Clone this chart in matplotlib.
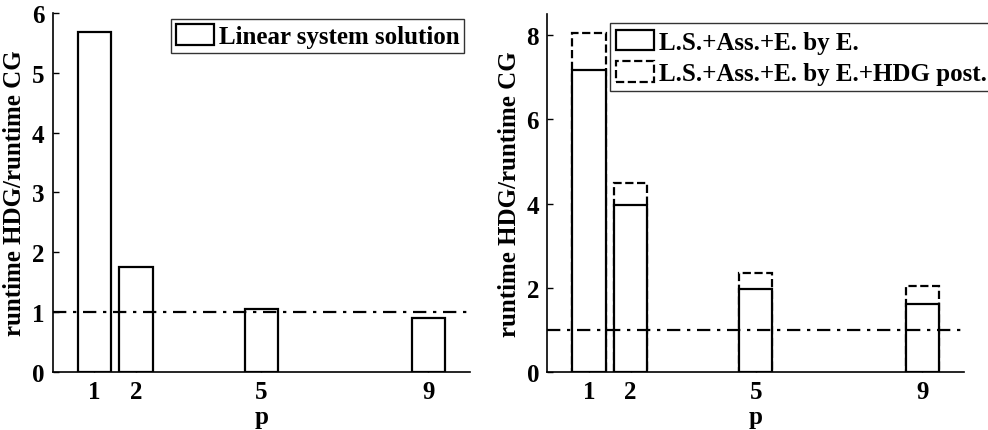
import matplotlib
matplotlib.use("Agg")
import matplotlib.pyplot as plt
from matplotlib.patches import Patch

p_values = [1, 2, 5, 9]
left_ratio = [5.69, 1.76, 1.05, 0.90]
right_solid = [7.16, 3.96, 1.97, 1.62]
right_dashed = [8.06, 4.49, 2.35, 2.03]
left_label = "Linear system solution"
right_labels = ["L.S.+Ass.+E. by E.", "L.S.+Ass.+E. by E.+HDG post."]
ylabel = "runtime HDG/runtime CG"
xlabel = "p"

plt.rcParams['font.family'] = ['Liberation Serif', 'DejaVu Serif']
plt.rcParams['font.weight'] = 'bold'
plt.rcParams['axes.labelweight'] = 'bold'

fig = plt.figure(figsize=(9.88, 4.31), dpi=100)
ax1 = fig.add_axes([0.0532, 0.1346, 0.4225, 0.833])
ax2 = fig.add_axes([0.554, 0.1346, 0.4217, 0.8306])

FS = 18
LW = 1.6

def style(ax, ymax, yticks):
    ax.set_xlim(0, 10)
    ax.set_ylim(0, ymax)
    ax.set_xticks(p_values)
    ax.set_yticks(yticks)
    ax.spines['top'].set_visible(False)
    ax.spines['right'].set_visible(False)
    for s in ('left', 'bottom'):
        ax.spines[s].set_linewidth(1.2)
    ax.tick_params(direction='in', length=4, width=1, labelsize=FS)
    ax.tick_params(axis='x', pad=6)
    ax.tick_params(axis='y', pad=6)
    for lab in ax.get_xticklabels() + ax.get_yticklabels():
        lab.set_fontweight('bold')
    ax.set_xlabel(xlabel, fontsize=FS, fontweight='bold', labelpad=1)
    ax.set_ylabel(ylabel, fontsize=FS, fontweight='bold', labelpad=4)
    ax.axhline(1, color='black', linestyle=(0, (6, 3, 1.5, 3)), linewidth=LW, zorder=5)

# Left panel
ax1.bar(p_values, left_ratio, width=0.8, facecolor='white', edgecolor='black',
        linewidth=LW, zorder=3)
style(ax1, 6, range(0, 7))
h1 = [Patch(facecolor='white', edgecolor='black', linewidth=LW, label=left_label)]
leg1 = ax1.legend(handles=h1, loc='upper right', bbox_to_anchor=(0.986, 0.983),
                  borderaxespad=0, fancybox=False, edgecolor='black',
                  prop={'size': FS, 'weight': 'bold'}, handlelength=1.5,
                  handleheight=0.9, handletextpad=0.2, borderpad=0.2)
leg1.get_frame().set_linewidth(1.0)

# Right panel
ax2.bar(p_values, right_dashed, width=0.8, facecolor='white', edgecolor='black',
        linewidth=LW, linestyle='--', zorder=2)
ax2.bar(p_values, right_solid, width=0.8, facecolor='white', edgecolor='black',
        linewidth=LW, zorder=3)
style(ax2, 8.5, range(0, 9, 2))
h2 = [Patch(facecolor='white', edgecolor='black', linewidth=LW, label=right_labels[0]),
      Patch(facecolor='white', edgecolor='black', linewidth=LW, linestyle='--',
            label=right_labels[1])]
leg2 = ax2.legend(handles=h2, loc='upper left', bbox_to_anchor=(0.15, 0.974),
                  borderaxespad=0, fancybox=False, edgecolor='black',
                  prop={'size': FS, 'weight': 'bold'}, handlelength=1.5,
                  handleheight=0.9, handletextpad=0.2, borderpad=0.25,
                  labelspacing=0.3)
leg2.get_frame().set_linewidth(1.0)

fig.savefig("out.png", dpi=100)
